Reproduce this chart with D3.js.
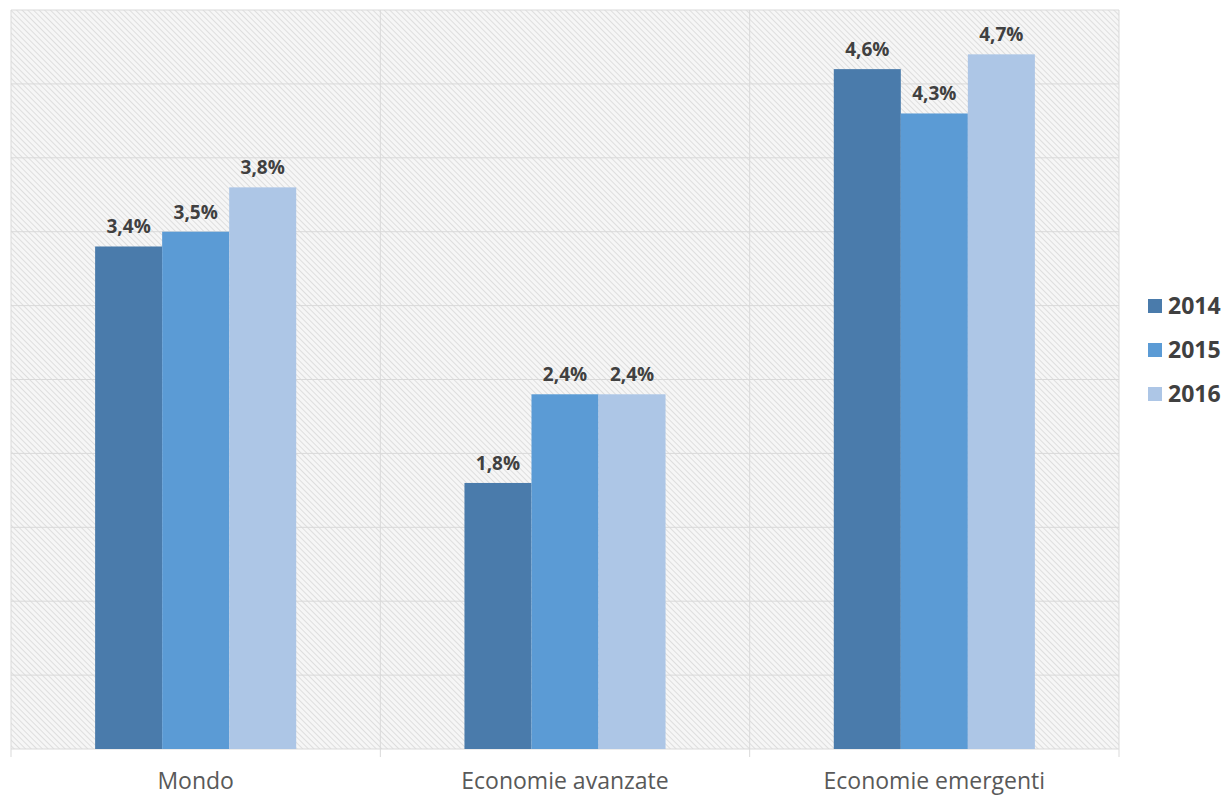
<!DOCTYPE html>
<html>
<head>
<meta charset="utf-8">
<script src="https://cdn.jsdelivr.net/npm/d3@7"></script>
<style>
  body { margin: 0; background: #fff; }
  svg { font-family: "Open Sans", "DejaVu Sans", sans-serif; }
</style>
</head>
<body>
<div id="chart"></div>
<script>
// data
var categories = ["Mondo", "Economie avanzate", "Economie emergenti"];
var years = ["2014", "2015", "2016"];
var values2014 = [3.4, 1.8, 4.6];
var values2015 = [3.5, 2.4, 4.3];
var values2016 = [3.8, 2.4, 4.7];
var colors = ["#4a7bab", "#5b9bd5", "#adc6e6"];

var width = 1232, height = 800;
var margin = {top: 10, right: 113, bottom: 51, left: 11};

var series = [values2014, values2015, values2016];
var data = categories.map(function(c, i) {
  return {cat: c, vals: years.map(function(y, j) { return {year: y, v: series[j][i], j: j}; })};
});

var svg = d3.select("#chart").append("svg")
  .attr("width", width)
  .attr("height", height);

// hatched background
var defs = svg.append("defs");
var pat = defs.append("pattern")
  .attr("id", "hatch")
  .attr("patternUnits", "userSpaceOnUse")
  .attr("width", 4).attr("height", 4)
  .attr("patternTransform", "rotate(-45)");
pat.append("rect").attr("width", 4).attr("height", 4).attr("fill", "#f6f6f6");
pat.append("line").attr("x1", 0).attr("y1", 0).attr("x2", 0).attr("y2", 4)
  .attr("stroke", "#d8d8d8").attr("stroke-width", 1.6);

var x = d3.scaleBand()
  .domain(categories)
  .range([margin.left, width - margin.right]);

var xInner = d3.scaleBand()
  .domain(years)
  .range([0, x.bandwidth()])
  .paddingOuter(1.255)
  .paddingInner(0);

var y = d3.scaleLinear()
  .domain([0, 5])
  .range([height - margin.bottom, margin.top]);

svg.append("rect")
  .attr("x", margin.left).attr("y", margin.top)
  .attr("width", width - margin.right - margin.left)
  .attr("height", y(0) - margin.top)
  .attr("fill", "url(#hatch)");

// horizontal gridlines
svg.append("g")
  .selectAll("line")
  .data(d3.range(0, 5.01, 0.5))
  .join("line")
  .attr("x1", margin.left).attr("x2", width - margin.right)
  .attr("y1", d => y(d)).attr("y2", d => y(d))
  .attr("stroke", "#d9d9d9").attr("stroke-width", 1);

// vertical category separators
var seps = categories.map(c => x(c)).concat([width - margin.right]);
svg.append("g")
  .selectAll("line")
  .data(seps)
  .join("line")
  .attr("x1", d => d).attr("x2", d => d)
  .attr("y1", margin.top).attr("y2", y(0) + 8)
  .attr("stroke", "#d9d9d9").attr("stroke-width", 1);

var groups = svg.append("g")
  .selectAll("g")
  .data(data)
  .join("g")
  .attr("transform", d => `translate(${x(d.cat)},0)`);

groups.selectAll("rect")
  .data(d => d.vals)
  .join("rect")
  .attr("x", d => xInner(d.year))
  .attr("y", d => y(d.v))
  .attr("width", xInner.bandwidth())
  .attr("height", d => y(0) - y(d.v))
  .attr("fill", d => colors[d.j]);

groups.selectAll("text")
  .data(d => d.vals)
  .join("text")
  .attr("x", d => xInner(d.year) + xInner.bandwidth() / 2)
  .attr("y", d => y(d.v) - 13)
  .attr("text-anchor", "middle")
  .attr("font-size", "19px")
  .attr("font-weight", "bold")
  .attr("fill", "#404040")
  .text(d => d.v.toFixed(1).replace(".", ",") + "%");

// category labels
svg.append("g")
  .selectAll("text")
  .data(categories)
  .join("text")
  .attr("x", d => x(d) + x.bandwidth() / 2)
  .attr("y", 789)
  .attr("text-anchor", "middle")
  .attr("font-size", "23px")
  .attr("fill", "#595959")
  .text(d => d);

// legend
var legend = svg.append("g")
  .selectAll("g")
  .data(years)
  .join("g")
  .attr("transform", (d, i) => `translate(1148,${306 + i * 44})`);
legend.append("rect")
  .attr("x", 0).attr("y", -7)
  .attr("width", 14).attr("height", 14)
  .attr("fill", (d, i) => colors[i]);
legend.append("text")
  .attr("x", 20).attr("y", 8)
  .attr("font-size", "23px")
  .attr("font-weight", "bold")
  .attr("fill", "#404040")
  .text(d => d);
</script>
</body>
</html>
